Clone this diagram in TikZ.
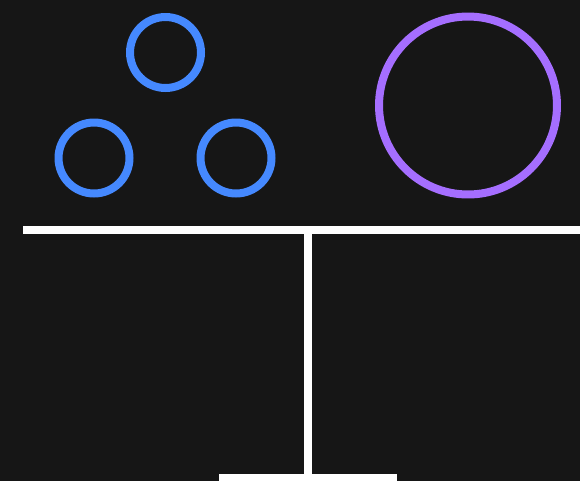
\documentclass[tikz,border=0pt]{standalone}
\usepackage{xcolor}
\usepackage{tikz}
\usetikzlibrary{positioning, calc}
\definecolor{bgdark}{HTML}{161616}
\definecolor{ballblue}{HTML}{4589FF}
\definecolor{ballpurple}{HTML}{A56EFF}

\begin{document}
\begin{tikzpicture}[
    x=0.02cm, y=-0.02cm,
    ball/.style={circle, draw=#1, line width=0.16cm, inner sep=0pt},
    bar/.style={draw=white, line width=0.16cm},
]
    \fill[bgdark] (0, 0) rectangle (580, 481);
    \useasboundingbox (0, 0) rectangle (580, 481);
    \clip (0, 0) rectangle (580, 481);

    % small weights on the left pan
    \node[ball=ballblue, minimum size=1.42cm] (small1) at (165.5, 52.5) {};
    \node[ball=ballblue, minimum size=1.42cm] (small2) at (94, 158) {};
    \node[ball=ballblue, minimum size=1.42cm] (small3) at (236, 158) {};

    % big weight on the right pan
    \node[ball=ballpurple, minimum size=3.56cm] (big) at (468, 105.5) {};

    % beam, post and foot
    \coordinate (beamL) at (23, 230);
    \coordinate (beamR) at (584, 230);
    \coordinate (pivot) at (307.5, 230);
    \coordinate (footC) at (307.5, 478);
    \coordinate (footL) at (219, 478);
    \coordinate (footR) at (396.5, 478);

    \draw[bar] (beamL) -- (beamR);
    \draw[bar] (pivot) -- (footC);
    \draw[bar] (footL) -- (footR);
\end{tikzpicture}
\end{document}
